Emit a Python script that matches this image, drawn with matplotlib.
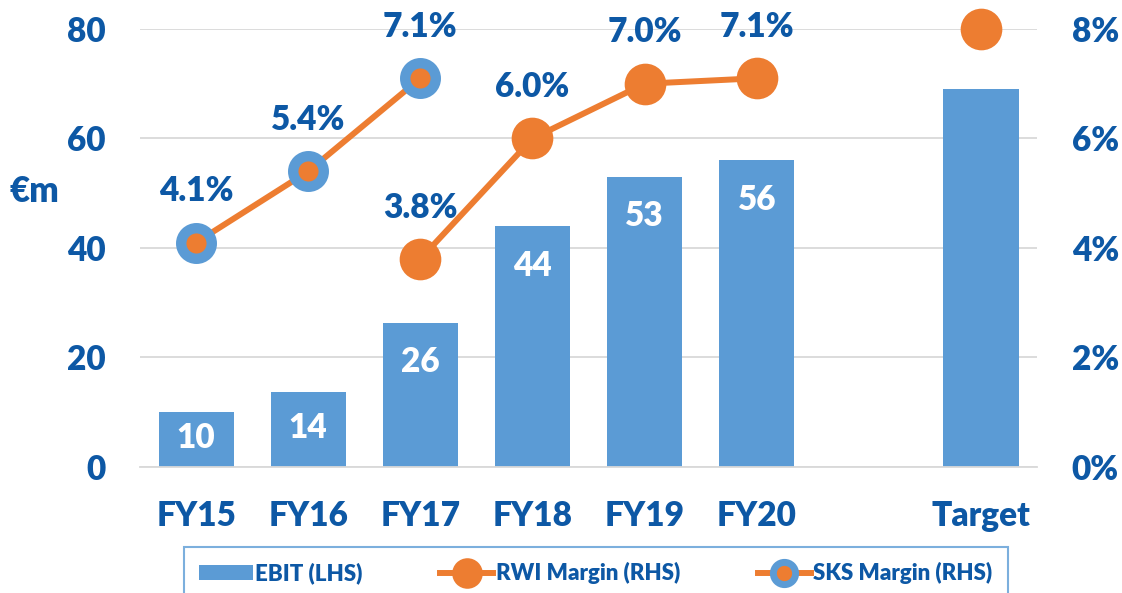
import matplotlib as mpl
import matplotlib.pyplot as plt
import numpy as np
from matplotlib.lines import Line2D
from matplotlib.patches import Patch

mpl.rcParams.update({
    "font.family": ["Lato", "DejaVu Sans"],
    "font.weight": "heavy",
})

# --- Data ---
categories = ["FY15", "FY16", "FY17", "FY18", "FY19", "FY20", "", "Target"]
ebit = [10, 13.7, 26.3, 44, 53, 56, np.nan, 69]
ebit_labels = ["10", "14", "26", "44", "53", "56", "", ""]
rwi_margin = [np.nan, np.nan, 3.8, 6.0, 7.0, 7.1, np.nan, 8.0]
rwi_labels = ["", "", "3.8%", "6.0%", "7.0%", "7.1%", "", ""]
sks_margin = [4.1, 5.4, 7.1, np.nan, np.nan, np.nan, np.nan, np.nan]
sks_labels = ["4.1%", "5.4%", "7.1%", "", "", "", "", ""]

BLUE = "#5B9BD5"
ORANGE = "#ED7D31"
TEXT = "#0D58A5"
GRID = "#D9D9D9"
FS = 24

fig = plt.figure(figsize=(11.22, 5.93), dpi=100)
ax = fig.add_axes([0.1248, 0.2125, 0.7995, 0.7386])
ax2 = ax.twinx()

x = np.arange(len(categories))

# bars (left axis)
ax.bar(x, ebit, width=0.67, color=BLUE, zorder=2)
ax.set_ylim(0, 80)
ax.set_yticks([0, 20, 40, 60, 80])
ax.set_xlim(-0.5, 7.5)
ax.grid(axis="y", color=GRID, linewidth=1.3, zorder=0)
ax.set_axisbelow(True)
for s in ["top", "left", "right"]:
    ax.spines[s].set_visible(False)
ax.spines["bottom"].set_color(GRID)
ax.spines["bottom"].set_linewidth(1.3)
ax.set_xticks(x)
ax.set_xticklabels(categories)
ax.tick_params(axis="both", length=0, labelsize=FS, labelcolor=TEXT)
ax.tick_params(axis="y", pad=25)
ax.tick_params(axis="x", pad=24)

for xi, v, lab in zip(x, ebit, ebit_labels):
    if lab:
        y = max(v - 7.2, v / 2 + 0.3)
        ax.text(xi, y, lab, ha="center", va="center", color="white",
                fontsize=FS, zorder=3)

# margins (right axis)
ax2.set_ylim(0, 8)
ax2.set_yticks([0, 2, 4, 6, 8])
ax2.set_yticklabels([f"{t}%" for t in range(0, 9, 2)])
ax2.tick_params(axis="y", length=0, labelsize=FS, labelcolor=TEXT, pad=25)
for s in ax2.spines.values():
    s.set_visible(False)

ax2.plot(x, rwi_margin, color=ORANGE, linewidth=4.3, marker="o",
         markersize=30, markerfacecolor=ORANGE, markeredgecolor=ORANGE,
         markeredgewidth=0, zorder=3, clip_on=False)
ax2.plot(x, sks_margin, color=ORANGE, linewidth=4.3, marker="o",
         markersize=22, markerfacecolor=ORANGE, markeredgecolor=BLUE,
         markeredgewidth=7.5, zorder=3, clip_on=False)

for vals, labs in [(rwi_margin, rwi_labels), (sks_margin, sks_labels)]:
    for xi, v, lab in zip(x, vals, labs):
        if lab:
            ax2.annotate(lab, (xi, v), xytext=(0, 37), textcoords="offset points",
                         ha="center", va="center", color=TEXT, fontsize=FS,
                         annotation_clip=False)

fig.text(10 / 1122, 1 - 192 / 593, "€m", ha="left", va="center",
         color=TEXT, fontsize=25)

# legend
handles = [
    Patch(facecolor=BLUE, edgecolor="none"),
    Line2D([], [], color=ORANGE, linewidth=4.3, marker="o", markersize=22,
           markerfacecolor=ORANGE, markeredgewidth=0),
    Line2D([], [], color=ORANGE, linewidth=4.3, marker="o", markersize=16,
           markerfacecolor=ORANGE, markeredgecolor=BLUE, markeredgewidth=5),
]
leg = fig.legend(handles, ["EBIT (LHS)", "RWI Margin (RHS)", "SKS Margin (RHS)"],
                 loc="upper center", bbox_to_anchor=(0.531, 0.078), ncol=3,
                 frameon=True, fancybox=False, fontsize=16, handlelength=2.4,
                 handletextpad=0.1, columnspacing=3.5, borderpad=0.7,
                 borderaxespad=0)
leg.get_frame().set_edgecolor(BLUE)
leg.get_frame().set_linewidth(1.5)
for t in leg.get_texts():
    t.set_color(TEXT)

fig.savefig("out.png", dpi=100)
